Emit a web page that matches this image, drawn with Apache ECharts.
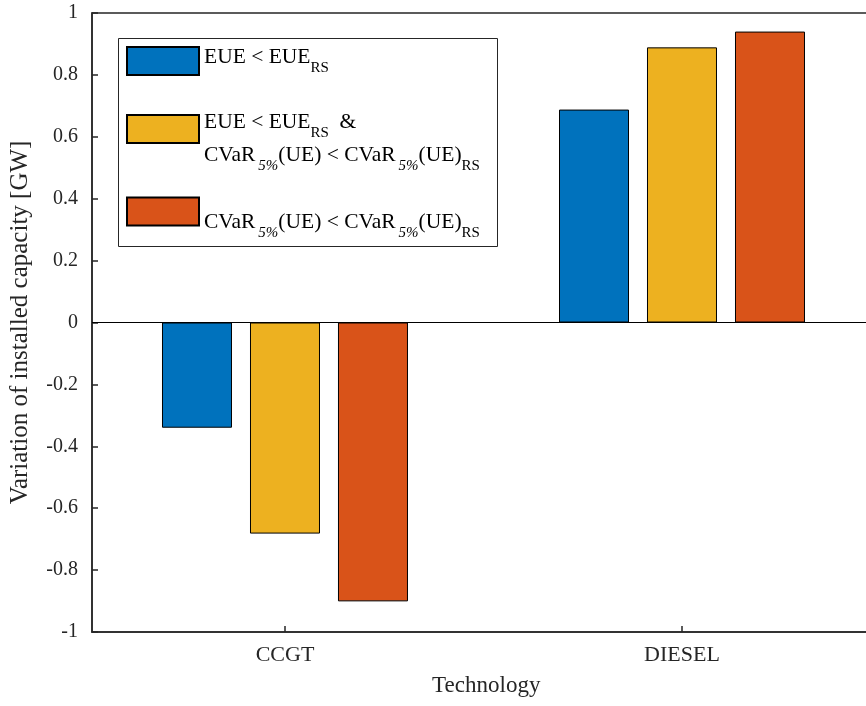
<!DOCTYPE html>
<html>
<head>
<meta charset="utf-8">
<script src="https://cdn.jsdelivr.net/npm/echarts@6/dist/echarts.min.js"></script>
<style>html,body{margin:0;padding:0;background:#fff}#c{width:866px;height:706px}</style>
</head>
<body>
<div id="c"></div>
<script>
const categories = ['CCGT', 'DIESEL'];
const seriesNames = ['EUE < EUE_RS', 'EUE < EUE_RS & CVaR_5%(UE) < CVaR_5%(UE)_RS', 'CVaR_5%(UE) < CVaR_5%(UE)_RS'];
const eueValues = [-0.34, 0.688];
const bothValues = [-0.682, 0.889];
const cvarValues = [-0.901, 0.94];
const yTicks = [-1, -0.8, -0.6, -0.4, -0.2, 0, 0.2, 0.4, 0.6, 0.8, 1];

const FONT = 'Liberation Serif';
const TXT = '#262626';
const colors = ['#0072BD', '#EDB120', '#D95319'];
const allValues = [eueValues, bothValues, cvarValues];

const legendFormats = [
  '{m|EUE < EUE}{s|RS}',
  '{m|EUE < EUE}{s|RS}{m|  &}\n{m|CVaR}{i|5%}{m|(UE) < CVaR}{i|5%}{m|(UE)}{s|RS}',
  '{m|CVaR}{i|5%}{m|(UE) < CVaR}{i|5%}{m|(UE)}{s|RS}'
];
const rich = {
  m: {fontFamily: FONT, fontSize: 21.5, color: '#000', lineHeight: 33},
  s: {fontFamily: FONT, fontSize: 15, color: '#000', padding: [22, 0, 0, 0], lineHeight: 10},
  i: {fontFamily: FONT, fontSize: 15, fontStyle: 'italic', color: '#000', padding: [22, 0, 0, 3], lineHeight: 10}
};
const legendTops = [38.5, 104, 196.5];
const legendTextPad = [[0, 0, 8, 0], [20, 0, 0, 0], [22, 0, 0, 0]];

const chart = echarts.init(document.getElementById('c'), null, {renderer: 'canvas'});
chart.setOption({
  animation: false,
  backgroundColor: '#fff',
  grid: {left: 92, width: 788.5, top: 13, bottom: 74, outerBoundsMode: 'none', containLabel: false, show: true, borderColor: TXT, borderWidth: 1.5, backgroundColor: 'transparent'},
  xAxis: {
    type: 'value', min: 0.5139, max: 2.5,
    name: 'Technology', nameLocation: 'middle', nameGap: 42,
    nameTextStyle: {fontFamily: FONT, fontSize: 23, color: TXT},
    axisLine: {show: true, onZero: false, lineStyle: {color: TXT, width: 1.5}},
    axisTick: {show: true, inside: true, length: 6, customValues: [1, 2], lineStyle: {color: TXT, width: 1.5}},
    axisLabel: {customValues: [1, 2], formatter: v => categories[Math.round(v) - 1] || '', margin: 12, fontFamily: FONT, fontSize: 22, color: TXT},
    splitLine: {show: false}
  },
  yAxis: {
    type: 'value', min: yTicks[0], max: yTicks[yTicks.length - 1], interval: 0.2,
    name: 'Variation of installed capacity [GW]', nameLocation: 'middle', nameGap: 59,
    nameTextStyle: {fontFamily: FONT, fontSize: 25, color: TXT},
    axisLine: {show: true, lineStyle: {color: TXT, width: 1.5}},
    axisTick: {show: true, inside: true, length: 6, lineStyle: {color: TXT, width: 1.5}},
    axisLabel: {margin: 14, fontFamily: FONT, fontSize: 20, color: TXT, formatter: v => String(Math.round(v * 10) / 10)},
    splitLine: {show: false}
  },
  legend: seriesNames.map((n, k) => ({
    data: [n], orient: 'vertical', left: 126, top: legendTops[k], padding: 0,
    itemWidth: 72, itemHeight: 28, icon: 'rect', selectedMode: false,
    formatter: () => legendFormats[k],
    textStyle: {rich: rich, fontFamily: FONT, fontSize: 21.5, color: '#000', padding: legendTextPad[k]}
  })),
  graphic: [{type: 'rect', shape: {x: 118.5, y: 38.5, width: 379, height: 208}, style: {fill: 'none', stroke: TXT, lineWidth: 1}, z: 100}],
  series: seriesNames.map((n, k) => ({
    name: n, type: 'bar',
    data: categories.map((c, i) => [i + 1, allValues[k][i]]),
    barWidth: 70, barGap: '25.7%',
    itemStyle: {color: colors[k], borderColor: '#000', borderWidth: 1},
    markLine: k === 0 ? {silent: true, symbol: 'none', label: {show: false}, lineStyle: {color: '#000', width: 1.2, type: 'solid'}, data: [{yAxis: 0}]} : undefined
  }))
});
</script>
</body>
</html>
